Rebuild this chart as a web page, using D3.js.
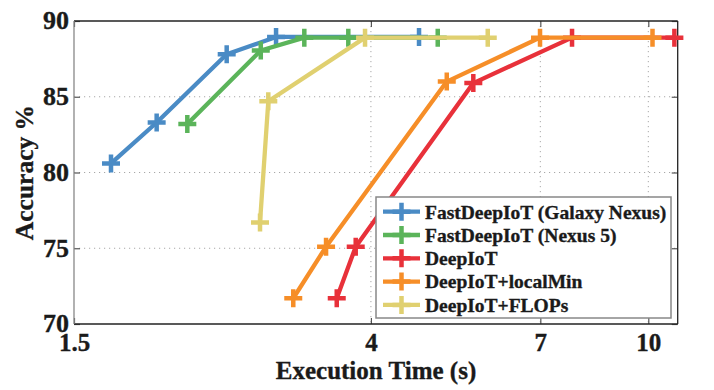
<!DOCTYPE html>
<html><head><meta charset="utf-8">
<script src="https://cdn.jsdelivr.net/npm/d3@7"></script>
<style>
html,body{margin:0;padding:0;background:#fff;}
text{font-family:"Liberation Serif","Times New Roman",serif;font-weight:bold;fill:#1a1a1a;stroke:#1a1a1a;stroke-width:0.35px;}
</style></head>
<body><svg id="c" width="714" height="390"></svg>
<script>
const seriesNames = ["FastDeepIoT (Galaxy Nexus)","FastDeepIoT (Nexus 5)","DeepIoT","DeepIoT+localMin","DeepIoT+FLOPs"];
const seriesColors = ["#4a8bc5","#5bb45a","#e8313a","#f68e28","#e0d070"];
const galaxyX = [1.695, 1.971, 2.484, 2.924, 4.689];
const galaxyY = [80.6, 83.3, 87.8, 88.95, 88.95];
const nexus5X = [2.181, 2.780, 3.210, 3.712, 4.988];
const nexus5Y = [83.2, 88.05, 88.9, 88.9, 88.9];
const deepiotX = [3.573, 3.804, 5.610, 7.773, 10.90];
const deepiotY = [71.7, 75.1, 85.9, 88.9, 88.9];
const localMinX = [3.095, 3.449, 5.139, 6.993, 10.14];
const localMinY = [71.7, 75.1, 86.0, 88.9, 88.9];
const flopsX = [2.773, 2.850, 3.923, 5.884];
const flopsY = [76.7, 84.7, 88.9, 88.9];
const xTicks = [1.5, 4, 7, 10];
const yTicks = [70, 75, 80, 85, 90];

const allX = [galaxyX, nexus5X, deepiotX, localMinX, flopsX];
const allY = [galaxyY, nexus5Y, deepiotY, localMinY, flopsY];

const svg = d3.select("#c");
const L = 74, T = 21, R = 677.7, B = 324;
const x = d3.scaleLog().domain([1.5, 11.02]).range([L, R]);
const y = d3.scaleLinear().domain([70, 90]).range([B, T]);

// grid
const g = svg.append("g");
g.selectAll(".gx").data(xTicks.filter(d => d > 1.5)).join("line")
  .attr("x1", d => x(d)).attr("x2", d => x(d)).attr("y1", T).attr("y2", B)
  .attr("stroke", "#a8a8a8").attr("stroke-width", 1).attr("stroke-dasharray", "1.2,3.8");
g.selectAll(".gy").data(yTicks.filter(d => d > 70 && d < 90)).join("line")
  .attr("x1", L).attr("x2", R).attr("y1", d => y(d)).attr("y2", d => y(d))
  .attr("stroke", "#a8a8a8").attr("stroke-width", 1).attr("stroke-dasharray", "1.2,3.8");

// axes via d3
const xAxisB = d3.axisBottom(x).tickValues(xTicks).tickFormat(d3.format("")).tickSize(-6).tickPadding(0);
const xAxisT = d3.axisTop(x).tickValues(xTicks).tickFormat("").tickSize(-6);
const yAxisL = d3.axisLeft(y).tickValues(yTicks).tickFormat(d3.format("d")).tickSize(-6).tickPadding(5);
const yAxisR = d3.axisRight(y).tickValues(yTicks).tickFormat("").tickSize(-6);

function style(sel){
  sel.select(".domain").remove();
  sel.selectAll(".tick line").attr("stroke", "#555").attr("stroke-width", 1.2);
  sel.selectAll("text").attr("font-size", 26).attr("fill", "#1a1a1a")
    .attr("font-family", "'Liberation Serif','Times New Roman',serif").attr("font-weight", "bold");
}
svg.append("g").attr("transform", `translate(0,${B})`).call(xAxisB).call(style)
  .selectAll("text").attr("font-size", 25).attr("y", 27).attr("dy", 0);
svg.append("g").attr("transform", `translate(0,${T})`).call(xAxisT).call(style);
svg.append("g").attr("transform", `translate(${L},0)`).call(yAxisL).call(style)
  .selectAll("text").attr("dy", "0.3em");
svg.append("g").attr("transform", `translate(${R},0)`).call(yAxisR).call(style);

// frame
svg.append("line").attr("x1", L).attr("x2", R).attr("y1", T).attr("y2", T).attr("stroke", "#222").attr("stroke-width", 1.3);
svg.append("line").attr("x1", R).attr("x2", R).attr("y1", T).attr("y2", B).attr("stroke", "#222").attr("stroke-width", 1.3);
svg.append("line").attr("x1", L).attr("x2", R).attr("y1", B).attr("y2", B).attr("stroke", "#222").attr("stroke-width", 1.3);
svg.append("line").attr("x1", L).attr("x2", L).attr("y1", T).attr("y2", B).attr("stroke", "#888").attr("stroke-width", 1.3);

// series
const line = d3.line().x(d => x(d[0])).y(d => y(d[1]));
const plus = "M-9,0H9M0,-9V9";
allX.forEach((xs, i) => {
  const pts = xs.map((v, j) => [v, allY[i][j]]);
  const sg = svg.append("g");
  sg.append("path").attr("d", line(pts)).attr("fill", "none")
    .attr("stroke", seriesColors[i]).attr("stroke-width", 4.3).attr("stroke-linejoin", "round");
  sg.selectAll("path.m").data(pts).join("path").attr("class", "m")
    .attr("transform", d => `translate(${x(d[0])},${y(d[1])})`)
    .attr("d", plus).attr("stroke", seriesColors[i]).attr("stroke-width", 4.5).attr("fill", "none");
});

// axis titles
svg.append("text").attr("x", 376).attr("y", 379).attr("text-anchor", "middle")
  .attr("font-size", 25).text("Execution Time (s)");
svg.append("text").attr("transform", `translate(33,${(T + B) / 2}) rotate(-90)`)
  .attr("text-anchor", "middle").attr("font-size", 25.5).text("Accuracy %");

// legend
const lg = svg.append("g");
lg.append("rect").attr("x", 376).attr("y", 197).attr("width", 295).attr("height", 121)
  .attr("fill", "#fff").attr("stroke", "#888").attr("stroke-width", 1.5);
seriesNames.forEach((n, i) => {
  const cy = 211.7 + i * 23.3;
  lg.append("line").attr("x1", 383).attr("x2", 420).attr("y1", cy).attr("y2", cy)
    .attr("stroke", seriesColors[i]).attr("stroke-width", 4.3);
  lg.append("path").attr("transform", `translate(401.5,${cy})`).attr("d", plus)
    .attr("stroke", seriesColors[i]).attr("stroke-width", 4.5).attr("fill", "none");
  lg.append("text").attr("x", 425).attr("y", cy).attr("dy", "0.35em")
    .attr("font-size", 19.5).text(n);
});
</script></body></html>
